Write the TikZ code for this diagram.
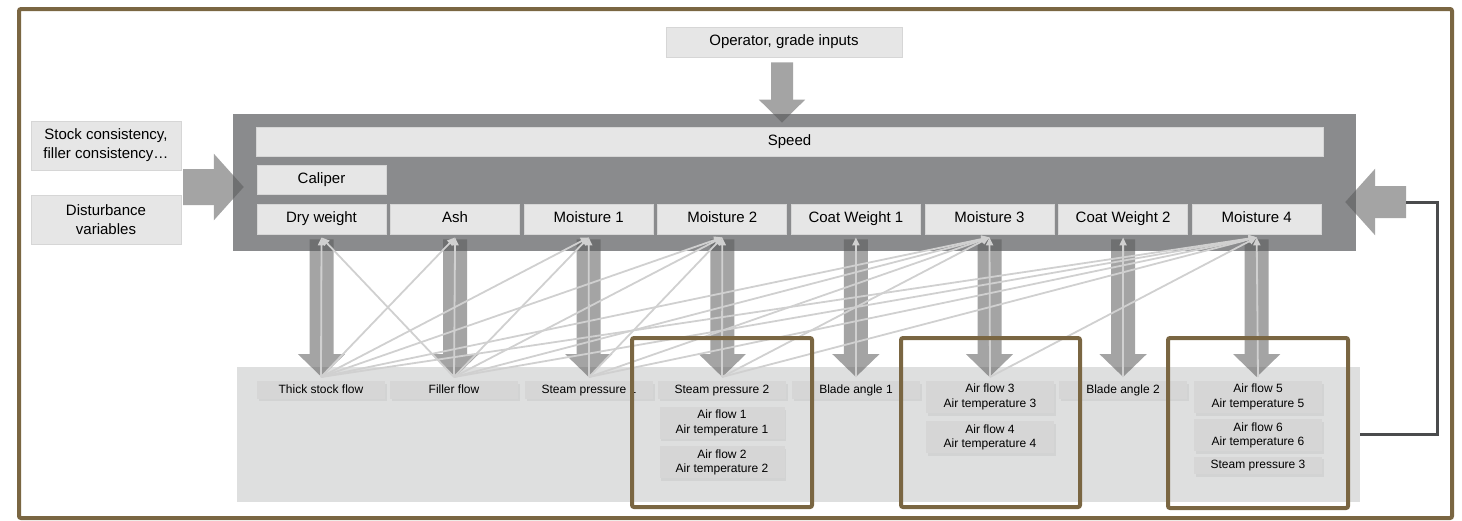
\documentclass[tikz,border=0pt]{standalone}
\usepackage{fontspec}
\setmainfont{Liberation Sans}
\usepackage{tikz}
\usetikzlibrary{arrows.meta,positioning,shadows}
\definecolor{framebrown}{RGB}{122,102,66}
\definecolor{boxgray}{RGB}{230,230,230}
\definecolor{edgegray}{RGB}{214,214,214}
\definecolor{blockgray}{RGB}{138,139,141}
\definecolor{panelgray}{RGB}{222,223,223}
\definecolor{tagfill}{RGB}{214,214,214}
\definecolor{arrowink}{RGB}{90,90,90}
\definecolor{linkgray}{RGB}{208,208,208}
\definecolor{loopgray}{RGB}{74,75,77}
\newcommand{\bigfnt}{\fontsize{15}{19}\selectfont}
\newcommand{\smallfnt}{\fontsize{12}{14.7}\selectfont}
\tikzset{
  ctrl/.style={fill=boxgray, draw=edgegray, line width=0.8pt, inner sep=2pt,
    font=\bigfnt, align=center, minimum width=129pt, minimum height=30pt},
  meas/.style={ctrl, text height=11pt, text depth=3.5pt},
  input/.style={ctrl, minimum width=150pt, minimum height=49pt},
  tag/.style={fill=tagfill, inner sep=3pt, font=\smallfnt, align=center,
    minimum width=128pt, minimum height=17pt,
    drop shadow={shadow xshift=1.5pt, shadow yshift=-2.5pt, opacity=0.12}},
  tagone/.style={tag, text height=9pt, text depth=2.5pt},
  vblock/.style={line width=24pt, draw=arrowink, -{Triangle[width=46pt,length=23pt]}},
  sideblock/.style={draw=arrowink, -{Triangle[width=65pt,length=30pt]}},
  infl/.style={line width=1.8pt, draw=linkgray, -{Triangle[width=7pt,length=8pt]}},
  hlbox/.style={draw=framebrown, line width=4pt, rounded corners=2pt},
  loopline/.style={draw=loopgray, line width=3pt},
}

\begin{document}
\begin{tikzpicture}[x=1pt, y=-1pt]
  \useasboundingbox (0,0) rectangle (1462,520);

  \node[fill=blockgray, inner sep=0pt, minimum width=1123pt, minimum height=137pt] (mpc) at (794.5,182.5) {};
  \node[fill=panelgray, inner sep=0pt, minimum width=1123pt, minimum height=135pt] (plant) at (798.5,434.5) {};

  \node[meas, minimum width=236pt] (op) at (784,42) {Operator, grade inputs};
  \node[input] (stock) at (106,145.5) {Stock consistency,\\filler consistency…};
  \node[input] (dist)  at (106,219.5) {Disturbance\\variables};

  \node[meas, minimum width=1067pt, minimum height=29pt] (speed) at (789.5,141.5) {Speed};
  \node[meas, minimum height=29pt] (cal) at (321.5,179.5) {Caliper};
  \node[meas] (dw)  at (321.5,219)  {Dry weight};
  \node[meas] (ash) at (455.1,219)  {Ash};
  \node[meas] (mo1) at (588.7,219)  {Moisture 1};
  \node[meas] (mo2) at (722.3,219)  {Moisture 2};
  \node[meas] (cw1) at (855.9,219)  {Coat Weight 1};
  \node[meas] (mo3) at (989.5,219)  {Moisture 3};
  \node[meas] (cw2) at (1123.1,219) {Coat Weight 2};
  \node[meas] (mo4) at (1256.7,219) {Moisture 4};

  \node[tagone, anchor=north] (tsf) at (321,381)  {Thick stock flow};
  \node[tagone, anchor=north] (ff)  at (454,381)  {Filler flow};
  \node[tagone, anchor=north] (sp1) at (589,381)  {Steam pressure 1};
  \node[tagone, anchor=north] (sp2) at (722,381)  {Steam pressure 2};
  \node[tag, below=8pt of sp2, minimum width=125pt] (af1) {Air flow 1\\Air temperature 1};
  \node[tag, below=7pt of af1, minimum width=125pt] (af2) {Air flow 2\\Air temperature 2};
  \node[tagone, anchor=north] (ba1) at (856,381)  {Blade angle 1};
  \node[tag, anchor=north] (af3) at (990,381)  {Air flow 3\\Air temperature 3};
  \node[tag, below=8pt of af3] (af4) {Air flow 4\\Air temperature 4};
  \node[tagone, anchor=north] (ba2) at (1123,381) {Blade angle 2};
  \node[tag, anchor=north] (af5) at (1258,381) {Air flow 5\\Air temperature 5};
  \node[tag, below=6pt of af5] (af6) {Air flow 6\\Air temperature 6};
  \node[tagone, below=5pt of af6] (sp3) {Steam pressure 3};

  \coordinate (opout) at ([yshift=-5pt,xshift=-2pt]op.south);
  \coordinate (distin) at (183,187);
  \coordinate (fbin) at (1406,202);

  \begin{scope}[transparency group, opacity=0.55]
    \foreach \meas/\act in {dw/tsf, ash/ff, mo1/sp1, mo2/sp2, cw1/ba1, mo3/af3, cw2/ba2, mo4/af5}
      \draw[vblock] ([yshift=-5pt]\meas.south) -- ([yshift=4pt]\act.north -| \meas.south);
    \draw[vblock, line width=22pt, -{Triangle[width=45pt,length=23pt]}]
      (opout) -- ([yshift=4pt]speed.north -| opout);
    \draw[sideblock, line width=36pt] (distin) -- ([xshift=11pt]mpc.west |- distin);
    \draw[sideblock, line width=32pt] (fbin) -- ([xshift=-11pt]mpc.east |- fbin);
  \end{scope}

  \foreach \act/\meas in {tsf/dw, tsf/ash, tsf/mo1, tsf/mo2, tsf/mo3, tsf/mo4,
      ff/dw, ff/ash, ff/mo1, ff/mo2, ff/mo3, ff/mo4,
      sp1/mo1, sp1/mo2, sp1/mo3, sp1/mo4, sp2/mo2, sp2/mo3, sp2/mo4,
      ba1/cw1, af3/mo3, af3/mo4, ba2/cw2, af5/mo4}
    \draw[infl] ([yshift=4pt]\act.north) -- ([yshift=-3pt]\meas.south);

  \draw[loopline] (plant.east) -- (1437,434.5) -- (1437,202) -- (fbin);

  \draw[hlbox] (632,338) rectangle (812,507);
  \draw[hlbox] (901,338) rectangle (1080,507);
  \draw[hlbox] (1168,338) rectangle (1348,508);
  \draw[hlbox] (19,9) rectangle (1452,518);

\end{tikzpicture}
\end{document}
